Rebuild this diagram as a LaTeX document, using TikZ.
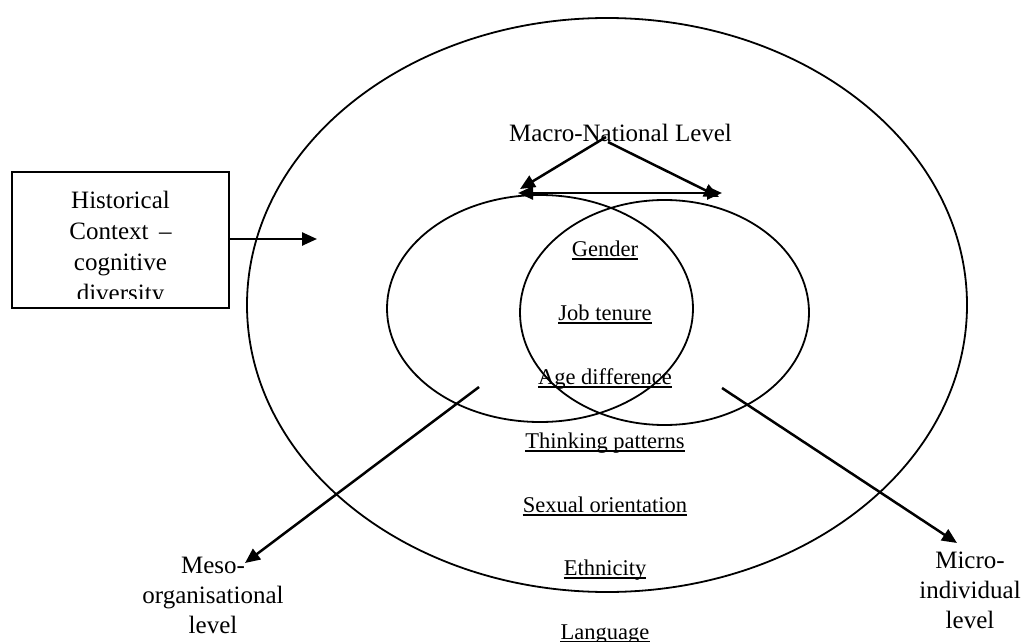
\documentclass[tikz,border=0pt]{standalone}
\usepackage{fontspec}
\setmainfont{Liberation Serif}
\usetikzlibrary{arrows.meta}

\tikzset{
  ring/.style={line width=1.8pt},
  arr/.style={line width=2.5pt, -{Triangle[length=15pt,width=13pt]}},
  biarr/.style={line width=2.5pt, {Triangle[length=15pt,width=13pt]}-{Triangle[length=15pt,width=13pt]}},
  bigtext/.style={font=\fontsize{25}{31}\selectfont, inner sep=0pt, align=center, anchor=base},
  lbl/.style={font=\fontsize{22.5}{27}\selectfont, inner sep=0pt, anchor=base},
  uline/.style={line width=1.5pt},
}

\begin{document}
\begin{tikzpicture}[x=1pt,y=-1pt]
\useasboundingbox (0,0) rectangle (1023,642);

% nested levels
\draw[ring] (607,305) ellipse [x radius=360, y radius=287];
\draw[ring] (540,308.5) ellipse [x radius=153, y radius=113.5];
\draw[ring] (664.5,312.5) ellipse [x radius=144.5, y radius=112.5];

% historical context box; its text is cut off by the inner margin of the frame
% (base of a multi-line node = baseline of its last line)
\node[draw, line width=1.8pt, minimum width=217pt, minimum height=136pt, inner sep=0pt,
      path picture={
        \clip ([yshift=10pt]path picture bounding box.south west)
              rectangle (path picture bounding box.north east);
        \node[bigtext] at ([yshift=-129pt]path picture bounding box.north)
          {Historical\\Context \,--\\cognitive\\diversity};
      }] (hist) at (120.5,240) {};
\coordinate (histtip) at (317,239);
\draw[arr] (hist.east |- histtip) -- (histtip);

% macro level
\node[bigtext] (macro) at (620.5,141) {Macro-National Level};
\coordinate (mL) at (606,137);
\coordinate (mR) at (608,142);
\coordinate (tL) at (520,189);
\coordinate (tR) at (719,197);
\coordinate (hL) at (518,193);
\coordinate (hR) at (722,193);
\draw[arr] (mL) -- (tL);
\draw[arr] (mR) -- (tR);
\draw[biarr] (hL) -- (hR);

% diversity dimensions
\foreach \n/\t/\y in {gen/Gender/256, job/Job tenure/320, age/Age difference/384,
                      thk/Thinking patterns/448, sex/Sexual orientation/512,
                      eth/Ethnicity/575, lan/Language/639}{
  \node[lbl] (\n) at (605,\y) {\t};
  \draw[uline] ([yshift=-3pt]\n.base west) -- ([yshift=-3pt]\n.base east);
}

% meso and micro levels
\node[bigtext, font=\fontsize{25}{30}\selectfont] (meso) at (213,633) {Meso-\\organisational\\level};
\node[bigtext, font=\fontsize{25}{30}\selectfont] (micro) at (970,628) {Micro-\\individual\\level};
\coordinate (mesoS) at (479,387);
\coordinate (mesoT) at (245,563);
\coordinate (microS) at (722,388);
\coordinate (microT) at (957,543);
\draw[arr] (mesoS) -- (mesoT);
\draw[arr] (microS) -- (microT);
\end{tikzpicture}
\end{document}
